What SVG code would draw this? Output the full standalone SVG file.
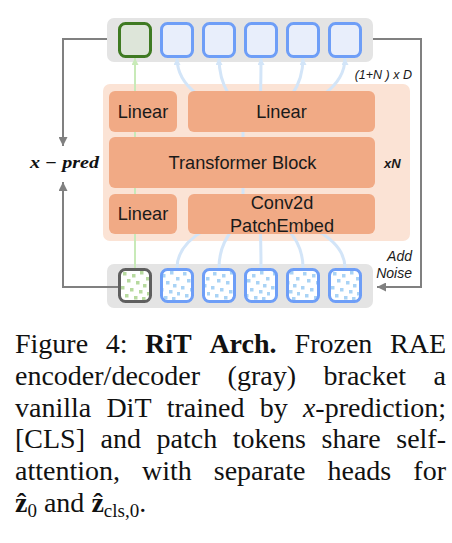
<svg xmlns="http://www.w3.org/2000/svg" width="452" height="543" viewBox="0 0 452 543">
<style>
.bar{fill:#e4e4e4}
.tokB{fill:#e8eefb;stroke:#6e9ef7;stroke-width:3}
.tokG{fill:#dde5d9;stroke:#3f7a22;stroke-width:3}
.nB{fill:url(#dotsB);stroke:#6e9ef7;stroke-width:3}
.nG{fill:url(#dotsG);stroke:#5f5f5f;stroke-width:3}
.box{fill:#f1aa85}
.lbl{font-family:"Liberation Sans",Arial,sans-serif;font-size:18.2px;fill:#1a1a1a;text-anchor:middle}
.it{font-family:"Liberation Sans",Arial,sans-serif;font-style:italic;fill:#1a1a1a}
.gl{fill:none;stroke:#808080;stroke-width:2}
.bl{fill:none;stroke:#d3e5f8;stroke-width:3}
.gr{fill:none;stroke:#c8eab8;stroke-width:2}
.cap{font-family:"Liberation Serif","Times New Roman",serif;font-size:28px;fill:#111}
.b{font-weight:bold}
</style>
<defs>
<pattern id="dotsB" patternUnits="userSpaceOnUse" width="30" height="30">
<rect width="30" height="30" fill="#ffffff"/>
<g fill="#a9d3f5">
<rect x="3" y="2" width="3.5" height="3.5"/><rect x="12" y="4" width="3.5" height="3.5"/><rect x="20" y="1" width="3.5" height="3.5"/><rect x="26" y="7" width="3.5" height="3.5"/>
<rect x="7" y="9" width="3.5" height="3.5"/><rect x="16" y="11" width="3.5" height="3.5"/><rect x="23" y="14" width="3.5" height="3.5"/><rect x="1" y="16" width="3.5" height="3.5"/>
<rect x="10" y="18" width="3.5" height="3.5"/><rect x="19" y="20" width="3.5" height="3.5"/><rect x="27" y="22" width="3.5" height="3.5"/><rect x="5" y="24" width="3.5" height="3.5"/>
<rect x="14" y="26" width="3.5" height="3.5"/><rect x="22" y="27" width="3.5" height="3.5"/></g>
</pattern>
<pattern id="dotsG" patternUnits="userSpaceOnUse" width="30" height="30">
<rect width="30" height="30" fill="#ffffff"/>
<g fill="#b7da9f">
<rect x="3" y="2" width="3.5" height="3.5"/><rect x="12" y="4" width="3.5" height="3.5"/><rect x="20" y="1" width="3.5" height="3.5"/><rect x="26" y="7" width="3.5" height="3.5"/>
<rect x="7" y="9" width="3.5" height="3.5"/><rect x="16" y="11" width="3.5" height="3.5"/><rect x="23" y="14" width="3.5" height="3.5"/><rect x="1" y="16" width="3.5" height="3.5"/>
<rect x="10" y="18" width="3.5" height="3.5"/><rect x="19" y="20" width="3.5" height="3.5"/><rect x="27" y="22" width="3.5" height="3.5"/><rect x="5" y="24" width="3.5" height="3.5"/>
<rect x="14" y="26" width="3.5" height="3.5"/><rect x="22" y="27" width="3.5" height="3.5"/></g>
</pattern>
<marker id="ag" viewBox="0 0 10 10" refX="10" refY="5" markerWidth="9" markerHeight="9" markerUnits="userSpaceOnUse" orient="auto"><path d="M0,0 L10,5 L0,10 z" fill="#808080"/></marker>
<marker id="ab" viewBox="0 0 10 10" refX="10" refY="5" markerWidth="7" markerHeight="7" markerUnits="userSpaceOnUse" orient="auto-start-reverse"><path d="M0,0 L10,5 L0,10 z" fill="#d3e5f8"/></marker>
<marker id="agr" viewBox="0 0 10 10" refX="10" refY="5" markerWidth="7" markerHeight="7" markerUnits="userSpaceOnUse" orient="auto-start-reverse"><path d="M0,0 L10,5 L0,10 z" fill="#c8eab8"/></marker>
</defs>

<g id="decoder-tokens">
<rect class="bar" x="107" y="18" width="266" height="44" rx="7"/>
<rect class="tokG" x="119.5" y="23.5" width="31" height="33" rx="6"/>
<rect class="tokB" x="161.5" y="23.5" width="31" height="33" rx="6"/>
<rect class="tokB" x="203.5" y="23.5" width="31" height="33" rx="6"/>
<rect class="tokB" x="245.5" y="23.5" width="31" height="33" rx="6"/>
<rect class="tokB" x="287.5" y="23.5" width="31" height="33" rx="6"/>
<rect class="tokB" x="329.5" y="23.5" width="31" height="33" rx="6"/>
</g>

<g id="noisy-tokens">
<rect class="bar" x="107" y="264" width="266" height="44" rx="7"/>
<rect class="nG" x="119.5" y="269.5" width="31" height="32" rx="6"/>
<rect class="nB" x="161.5" y="269.5" width="31" height="32" rx="6"/>
<rect class="nB" x="203.5" y="269.5" width="31" height="32" rx="6"/>
<rect class="nB" x="245.5" y="269.5" width="31" height="32" rx="6"/>
<rect class="nB" x="287.5" y="269.5" width="31" height="32" rx="6"/>
<rect class="nB" x="329.5" y="269.5" width="31" height="32" rx="6"/>
</g>

<g id="dit-frame">
<rect x="103" y="84" width="307" height="157" rx="7" fill="#fbe3d5"/>
</g>

<g id="connectors">
<path class="gr" d="M135 58 L135 268" marker-start="url(#agr)"/>
<path class="bl" d="M243 125 L243 205"/>
<path class="bl" d="M177 58 Q177 100 259 120" marker-start="url(#ab)"/>
<path class="bl" d="M219 58 Q219 100 259 120" marker-start="url(#ab)"/>
<path class="bl" d="M261 58 Q261 100 259 120" marker-start="url(#ab)"/>
<path class="bl" d="M303 58 Q303 100 259 120" marker-start="url(#ab)"/>
<path class="bl" d="M345 58 Q345 100 259 120" marker-start="url(#ab)"/>
<path class="bl" d="M177 268 Q177 230 259 210"/>
<path class="bl" d="M219 268 Q219 230 259 210"/>
<path class="bl" d="M261 268 Q261 230 259 210"/>
<path class="bl" d="M303 268 Q303 230 259 210"/>
<path class="bl" d="M345 268 Q345 230 259 210"/>
<path class="gl" d="M107 39 H63 V146" marker-end="url(#ag)"/>
<path class="gl" d="M118 287 H63 V182" marker-end="url(#ag)"/>
<path class="gl" d="M373 39 H421 V287 H377" marker-end="url(#ag)"/>
</g>

<g id="linear-cls-out">
<rect class="box" x="109" y="91" width="68" height="41" rx="6"/>
<text class="lbl" x="143" y="118">Linear</text>
</g>
<g id="linear-patch-out">
<rect class="box" x="188" y="91" width="187" height="41" rx="6"/>
<text class="lbl" x="281.5" y="118">Linear</text>
</g>
<g id="transformer-block">
<rect class="box" x="109" y="137" width="266" height="51" rx="6"/>
<text class="lbl" x="242.5" y="169">Transformer Block</text>
</g>
<g id="linear-cls-in">
<rect class="box" x="109" y="194" width="68" height="40" rx="6"/>
<text class="lbl" x="143" y="220">Linear</text>
</g>
<g id="patch-embed">
<rect class="box" x="188" y="194" width="187" height="40" rx="6"/>
<text class="lbl" x="282" y="209">Conv2d</text>
<text class="lbl" x="282" y="232">PatchEmbed</text>
</g>

<g id="labels">
<text class="it" x="412" y="79" font-size="12.5" text-anchor="end">(1+N ) x D</text>
<text class="it" x="384" y="168" font-size="13" font-weight="bold">xN</text>
<text class="it" x="412" y="261" font-size="14" text-anchor="end">Add</text>
<text class="it" x="412" y="278" font-size="14" text-anchor="end">Noise</text>
<text x="30" y="168" font-family="'Liberation Serif','Times New Roman',serif" font-size="16" font-weight="bold" font-style="italic" fill="#111" textLength="69" lengthAdjust="spacingAndGlyphs">x − pred</text>
</g>

<g id="caption" class="cap">
<text y="353"><tspan x="15">Figure</tspan><tspan x="105.7">4:</tspan><tspan x="145.1" class="b">RiT</tspan><tspan x="209.4" class="b">Arch.</tspan><tspan x="294.6">Frozen</tspan><tspan x="446" text-anchor="end">RAE</tspan></text>
<text y="385"><tspan x="15">encoder/decoder</tspan><tspan x="227.6">(gray)</tspan><tspan x="323.6">bracket</tspan><tspan x="446" text-anchor="end">a</tspan></text>
<text y="417"><tspan x="15">vanilla</tspan><tspan x="106.4">DiT</tspan><tspan x="166.7">trained</tspan><tspan x="259.7">by</tspan><tspan x="302.9" font-style="italic">x</tspan><tspan>-prediction;</tspan></text>
<text y="448"><tspan x="15">[CLS]</tspan><tspan x="100.6">and</tspan><tspan x="156.6">patch</tspan><tspan x="232.8">tokens</tspan><tspan x="321.5">share</tspan><tspan x="446" text-anchor="end">self-</tspan></text>
<text y="480"><tspan x="15">attention,</tspan><tspan x="142">with</tspan><tspan x="213.8">separate</tspan><tspan x="327.5">heads</tspan><tspan x="446" text-anchor="end">for</tspan></text>
<text y="512"><tspan x="15" class="b">ẑ</tspan><tspan font-size="19" dy="5">0</tspan><tspan dy="-5"> and </tspan><tspan class="b">ẑ</tspan><tspan font-size="19" dy="5">cls,0</tspan><tspan dy="-5">.</tspan></text>
</g>
</svg>
